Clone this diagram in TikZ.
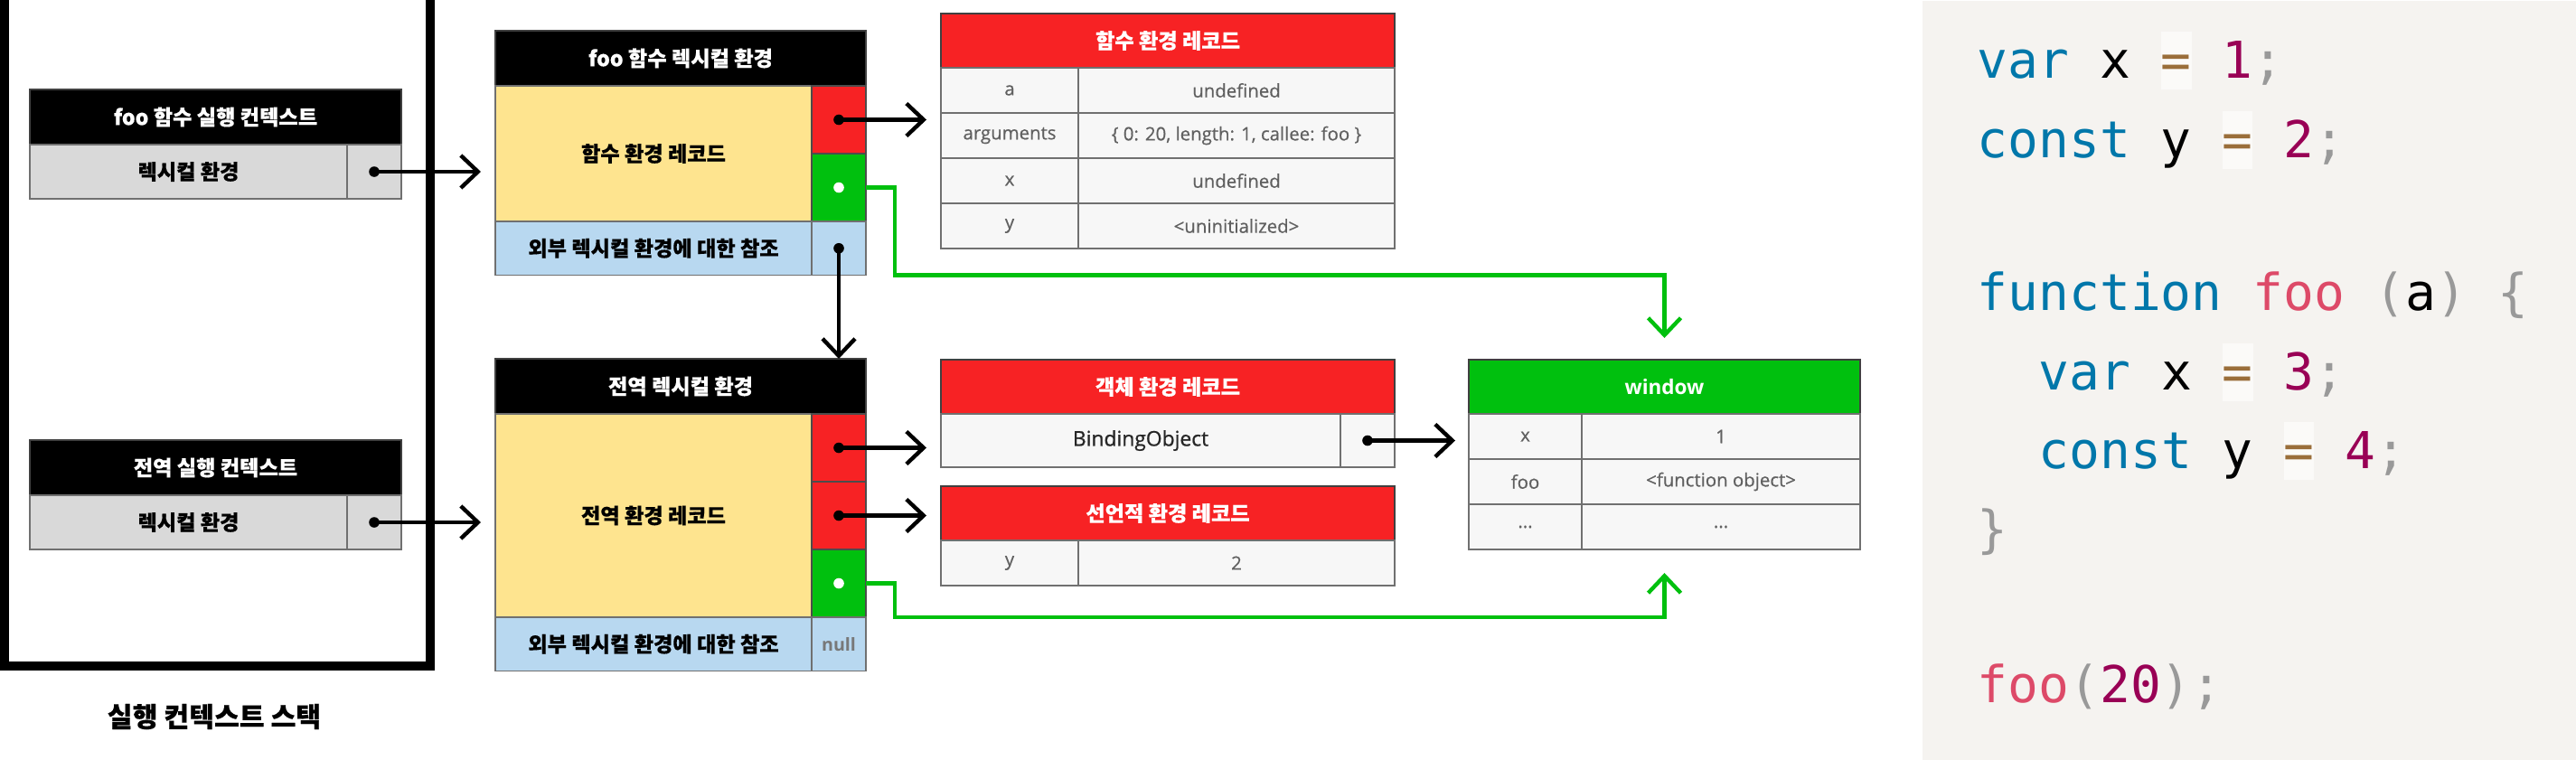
\documentclass[tikz,border=0pt]{standalone}
\usepackage{fontspec}
\setmainfont{Open Sans}
\setmonofont{DejaVu Sans Mono}
\newfontfamily\krfont{Noto Sans CJK KR}[BoldFeatures={FakeBold=0.3}]
\newfontfamily\medfont{Open Sans}[FakeBold=0.5]
\newfontfamily\semifont{Open Sans}[FakeBold=0.8]
\usetikzlibrary{arrows.meta, positioning, calc}
\definecolor{cRed}{RGB}{247,34,36}
\definecolor{cGreen}{RGB}{0,192,14}
\definecolor{cYellow}{RGB}{254,228,143}
\definecolor{cBlue}{RGB}{184,216,240}
\definecolor{cGray}{RGB}{217,217,217}
\definecolor{cCell}{RGB}{247,247,247}
\definecolor{cLine}{RGB}{112,112,112}
\definecolor{cTxt}{RGB}{96,96,96}
\definecolor{cCode}{RGB}{245,243,240}
\definecolor{cOpBg}{RGB}{251,250,248}
\definecolor{cKey}{RGB}{0,119,170}
\definecolor{cFn}{RGB}{221,74,104}
\definecolor{cNum}{RGB}{153,0,85}
\definecolor{cOp}{RGB}{154,110,58}
\definecolor{cPunc}{RGB}{153,153,153}
\newcommand{\hangul}{\krfont\bfseries\fontsize{6.6}{7.9}\selectfont}
\newcommand{\cellfont}{\medfont\fontsize{5.8}{7}\selectfont}
\newcommand{\jsKw}[1]{\textcolor{cKey}{#1}}
\newcommand{\jsFn}[1]{\textcolor{cFn}{#1}}
\newcommand{\jsNum}[1]{\textcolor{cNum}{#1}}
\newcommand{\jsPun}[1]{\textcolor{cPunc}{#1}}
\newcommand{\jsOp}[1]{{\setlength{\fboxsep}{0pt}\colorbox{cOpBg}{\rule[-3.7pt]{0pt}{18.2pt}\textcolor{cOp}{#1}}}}
\tikzset{
	box/.style      ={rectangle, draw=cLine, line width=0.55pt, inner sep=0pt, outer sep=0pt, align=center},
	blackhead/.style={box, fill=black, draw=black!75, text=white, font=\hangul, minimum height=0.61cm},
	redhead/.style  ={box, fill=cRed, draw=black!75, text=white, font=\hangul, minimum width=5.02cm, minimum height=0.60cm},
	greenhead/.style={box, fill=cGreen, draw=black!75, text=white, font=\bfseries\fontsize{6.4}{7.6}\selectfont, minimum width=4.33cm, minimum height=0.60cm},
	ecrow/.style    ={box, fill=cGray, font=\hangul, minimum height=0.60cm},
	erbody/.style   ={box, fill=cYellow, font=\hangul, minimum width=3.50cm},
	redcell/.style  ={box, fill=cRed, draw=black!70, minimum width=0.60cm, minimum height=0.75cm},
	greencell/.style={box, fill=cGreen, draw=black!70, minimum width=0.60cm, minimum height=0.75cm},
	outerrow/.style ={box, fill=cBlue, font=\hangul, minimum width=3.50cm, minimum height=0.595cm},
	outercell/.style={box, fill=cBlue, minimum width=0.60cm, minimum height=0.595cm, text=cTxt!85, font=\bfseries\fontsize{5.6}{7}\selectfont},
	keycell/.style  ={box, fill=cCell, text=cTxt, font=\cellfont, minimum width=1.52cm, minimum height=0.50cm},
	valcell/.style  ={box, fill=cCell, text=cTxt, font=\cellfont, minimum width=3.50cm, minimum height=0.50cm},
	bindcell/.style ={box, fill=cCell, text=black!85, font=\semifont\fontsize{6.5}{8}\selectfont, minimum height=0.59cm},
	codeline/.style ={anchor=base west, inner sep=0pt, font=\ttfamily\fontsize{16}{22}\selectfont},
	ptr/.style      ={line width=0.44mm, -{Straight Barb[length=1.9mm, width=3.6mm]}, line cap=round},
	envptr/.style   ={ptr, draw=cGreen},
	stackwall/.style={line width=0.1cm},
}
\begin{document}
\begin{tikzpicture}[y=-1cm]
	\useasboundingbox (0,0) rectangle (28.5,8.4);
	% execution context stack
	\draw[stackwall] (0.05,0) -- (0.05,7.365) -- (4.755,7.365) -- (4.755,0);
	\node[font=\krfont\bfseries\fontsize{8.6}{10}\selectfont] (stackname) at (2.37,7.93) {실행 컨텍스트 스택};
	\node[blackhead, minimum width=4.11cm, anchor=north west] (fooEC) at (0.33,0.99) {foo 함수 실행 컨텍스트};
	\node[ecrow, minimum width=3.51cm, anchor=north west] (fooECle) at (fooEC.south west) {렉시컬 환경};
	\node[ecrow, minimum width=0.60cm, right=0pt of fooECle] (fooECptr) {};
	\node[blackhead, minimum width=4.11cm, anchor=north west] (gloEC) at (0.33,4.87) {전역 실행 컨텍스트};
	\node[ecrow, minimum width=3.51cm, anchor=north west] (gloECle) at (gloEC.south west) {렉시컬 환경};
	\node[ecrow, minimum width=0.60cm, right=0pt of gloECle] (gloECptr) {};
	% lexical environments
	\node[blackhead, minimum width=4.10cm, anchor=north west] (fooLE) at (5.48,0.34) {foo 함수 렉시컬 환경};
	\node[erbody, minimum height=1.50cm, anchor=north west] (fooER) at (fooLE.south west) {함수 환경 레코드};
	\node[redcell, anchor=north west] (fooERptr) at (fooER.north east) {};
	\node[greencell, below=0pt of fooERptr] (fooGptr) {};
	\node[outerrow, anchor=north west] (fooOuter) at (fooER.south west) {외부 렉시컬 환경에 대한 참조};
	\node[outercell, right=0pt of fooOuter] (fooOuterPtr) {};
	\node[blackhead, minimum width=4.10cm, anchor=north west] (gloLE) at (5.48,3.97) {전역 렉시컬 환경};
	\node[erbody, minimum height=2.25cm, anchor=north west] (gloER) at (gloLE.south west) {전역 환경 레코드};
	\node[redcell, anchor=north west] (gloObjPtr) at (gloER.north east) {};
	\node[redcell, below=0pt of gloObjPtr] (gloDeclPtr) {};
	\node[greencell, below=0pt of gloDeclPtr] (gloGptr) {};
	\node[outerrow, anchor=north west] (gloOuter) at (gloER.south west) {외부 렉시컬 환경에 대한 참조};
	\node[outercell, right=0pt of gloOuter] (gloOuterPtr) {null};
	% environment records
	\node[redhead, anchor=north west] (fnER) at (10.41,0.15) {함수 환경 레코드};
	\node[keycell, anchor=north west] (fnKa) at (fnER.south west) {a};
	\node[valcell, right=0pt of fnKa] (fnVa) {undefined};
	\node[keycell, below=0pt of fnKa] (fnKargs) {arguments};
	\node[valcell, right=0pt of fnKargs] (fnVargs) {\{ 0: 20, length: 1, callee: foo \}};
	\node[keycell, below=0pt of fnKargs] (fnKx) {x};
	\node[valcell, right=0pt of fnKx] (fnVx) {undefined};
	\node[keycell, below=0pt of fnKx] (fnKy) {y};
	\node[valcell, right=0pt of fnKy] (fnVy) {<uninitialized>};
	\node[redhead, anchor=north west] (objER) at (10.41,3.98) {객체 환경 레코드};
	\node[bindcell, minimum width=4.42cm, anchor=north west] (objBind) at (objER.south west) {BindingObject};
	\node[bindcell, minimum width=0.60cm, right=0pt of objBind] (objPtr) {};
	\node[redhead, anchor=north west] (declER) at (10.41,5.38) {선언적 환경 레코드};
	\node[keycell, anchor=north west] (declKy) at (declER.south west) {y};
	\node[valcell, right=0pt of declKy] (declVy) {2};
	% global object
	\node[greenhead, anchor=north west] (win) at (16.25,3.98) {window};
	\node[keycell, minimum width=1.25cm, anchor=north west] (winKx) at (win.south west) {x};
	\node[valcell, minimum width=3.08cm, right=0pt of winKx] (winVx) {1};
	\node[keycell, minimum width=1.25cm, below=0pt of winKx] (winKfoo) {foo};
	\node[valcell, minimum width=3.08cm, right=0pt of winKfoo] (winVfoo) {<function object>};
	\node[keycell, minimum width=1.25cm, below=0pt of winKfoo] (winKdots) {...};
	\node[valcell, minimum width=3.08cm, right=0pt of winKdots] (winVdots) {...};
	% pointers
	\draw[ptr, shorten >=1.6mm] (fooECptr.center) -- (fooER.west |- fooECptr.center);
	\draw[ptr, shorten >=1.6mm] (gloECptr.center) -- (gloER.west |- gloECptr.center);
	\draw[ptr, shorten >=1.6mm] (fooERptr.center) -- (fnER.west |- fooERptr.center);
	\draw[ptr] (fooOuterPtr.center) -- (fooOuterPtr.center |- gloLE.north);
	\draw[ptr, shorten >=1.6mm] (gloObjPtr.center) -- (objER.west |- gloObjPtr.center);
	\draw[ptr, shorten >=1.6mm] (gloDeclPtr.center) -- (declER.west |- gloDeclPtr.center);
	\draw[ptr, shorten >=1.5mm] (objPtr.center) -- (winKx.west |- objPtr.center);
	\draw[envptr, line cap=butt, shorten >=2.4mm] (fooGptr.east) -- ++(0.32,0) |- (win.north |- fooOuter.south) -- (win.north);
	\draw[envptr, line cap=butt, shorten >=2.6mm] (gloGptr.east) -- ++(0.32,0) |- (win.north |- gloGptr.south) -- (win.north |- winKdots.south);
	\foreach \p in {fooECptr, gloECptr, fooERptr, fooOuterPtr, gloObjPtr, gloDeclPtr, objPtr}
		\fill (\p.center) circle (0.058);
	\foreach \p in {fooGptr, gloGptr}
		\fill[white] (\p.center) circle (0.058);
	% source code
	\node[fill=cCode, inner sep=0pt, minimum width=7.24cm, minimum height=8.4cm, anchor=north west] (codepanel) at (21.26,0) {};
	\node[codeline] (l1) at (21.87,0.86) {\jsKw{var} x \jsOp{=} \jsNum{1}\jsPun{;}};
	\node[codeline] (l2) at (21.87,1.74) {\jsKw{const} y \jsOp{=} \jsNum{2}\jsPun{;}};
	\node[codeline] (l3) at (21.87,3.43) {\jsKw{function} \jsFn{foo} \jsPun{(}a\jsPun{)} \jsPun{\{}};
	\node[codeline] (l4) at (22.55,4.31) {\jsKw{var} x \jsOp{=} \jsNum{3}\jsPun{;}};
	\node[codeline] (l5) at (22.55,5.18) {\jsKw{const} y \jsOp{=} \jsNum{4}\jsPun{;}};
	\node[codeline] (l6) at (21.87,6.05) {\jsPun{\}}};
	\node[codeline] (l7) at (21.87,7.77) {\jsFn{foo}\jsPun{(}\jsNum{20}\jsPun{)}\jsPun{;}};
\end{tikzpicture}
\end{document}
